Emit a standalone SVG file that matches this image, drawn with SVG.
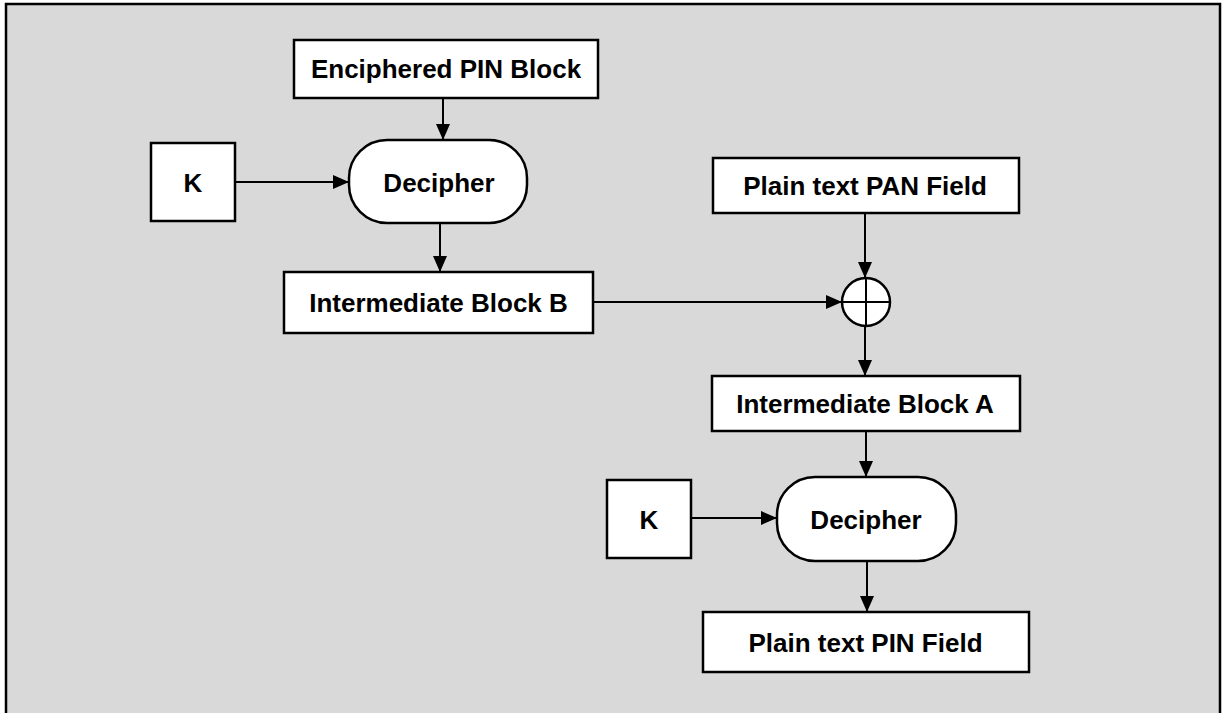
<svg xmlns="http://www.w3.org/2000/svg" width="1222" height="713" viewBox="0 0 1222 713">
  <style>
    .box { fill: #ffffff; stroke: #000000; stroke-width: 2.5; }
    .lbl { font-family: "Liberation Sans", Arial, sans-serif; font-weight: bold; font-size: 26px; fill: #000000; text-anchor: middle; }
    .wire { fill: none; stroke: #000000; stroke-width: 2; }
  </style>
  <defs>
    <marker id="head" markerUnits="userSpaceOnUse" markerWidth="16" markerHeight="14" refX="16" refY="7" orient="auto">
      <path d="M0,0 L16,7 L0,14 Z" fill="#000000"/>
    </marker>
  </defs>

  <!-- frame -->
  <rect x="0" y="0" width="1222" height="713" fill="#ffffff"/>
  <rect x="6" y="4" width="1214" height="730" fill="#d9d9d9" stroke="#000000" stroke-width="2.5"/>

  <!-- connectors -->
  <g id="connectors">
    <line class="wire" x1="443" y1="98" x2="443" y2="140" marker-end="url(#head)"/>
    <line class="wire" x1="235" y1="182" x2="349" y2="182" marker-end="url(#head)"/>
    <line class="wire" x1="440" y1="223" x2="440" y2="272" marker-end="url(#head)"/>
    <line class="wire" x1="593" y1="302" x2="842" y2="302" marker-end="url(#head)"/>
    <line class="wire" x1="865" y1="213" x2="865" y2="278" marker-end="url(#head)"/>
    <line class="wire" x1="865" y1="326" x2="865" y2="376" marker-end="url(#head)"/>
    <line class="wire" x1="866" y1="431" x2="866" y2="477" marker-end="url(#head)"/>
    <line class="wire" x1="691" y1="518" x2="777" y2="518" marker-end="url(#head)"/>
    <line class="wire" x1="867" y1="561" x2="867" y2="612" marker-end="url(#head)"/>
  </g>

  <g id="enciphered-pin-block">
    <rect class="box" x="294" y="40" width="304" height="58"/>
    <text class="lbl" x="446" y="78">Enciphered PIN Block</text>
  </g>

  <g id="key-1">
    <rect class="box" x="151" y="143" width="84" height="78"/>
    <text class="lbl" x="193" y="192">K</text>
  </g>

  <g id="decipher-1">
    <rect class="box" x="349" y="140" width="178" height="83" rx="38" ry="38"/>
    <text class="lbl" x="439" y="192">Decipher</text>
  </g>

  <g id="intermediate-block-b">
    <rect class="box" x="284" y="272" width="309" height="61"/>
    <text class="lbl" x="438.5" y="312">Intermediate Block B</text>
  </g>

  <g id="plain-text-pan-field">
    <rect class="box" x="713" y="158" width="306" height="55"/>
    <text class="lbl" x="865" y="195">Plain text PAN Field</text>
  </g>

  <g id="xor">
    <circle cx="866" cy="302" r="24" fill="#ffffff" stroke="#000000" stroke-width="2.5"/>
    <line x1="842" y1="302" x2="890" y2="302" stroke="#000000" stroke-width="2"/>
    <line x1="866" y1="278" x2="866" y2="326" stroke="#000000" stroke-width="2"/>
  </g>

  <g id="intermediate-block-a">
    <rect class="box" x="712" y="376" width="308" height="55"/>
    <text class="lbl" x="865" y="413">Intermediate Block A</text>
  </g>

  <g id="key-2">
    <rect class="box" x="607" y="480" width="84" height="78"/>
    <text class="lbl" x="649" y="529">K</text>
  </g>

  <g id="decipher-2">
    <rect class="box" x="777" y="477" width="179" height="84" rx="38" ry="38"/>
    <text class="lbl" x="866" y="529">Decipher</text>
  </g>

  <g id="plain-text-pin-field">
    <rect class="box" x="703" y="612" width="326" height="60"/>
    <text class="lbl" x="865.5" y="652">Plain text PIN Field</text>
  </g>
</svg>
